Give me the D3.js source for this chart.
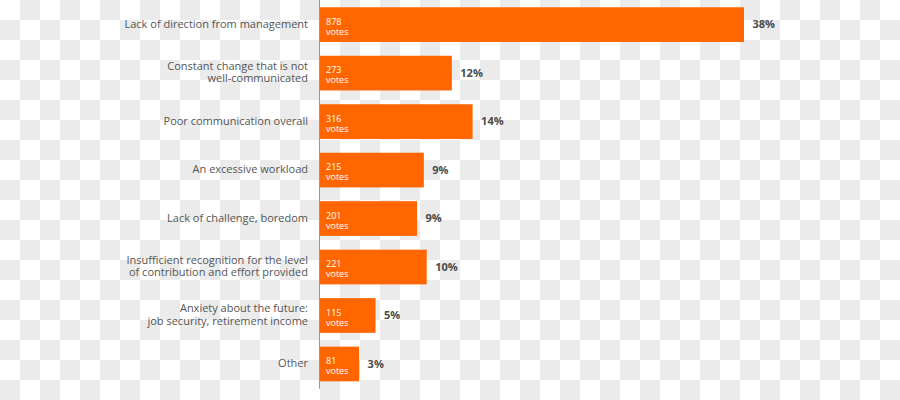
<!DOCTYPE html>
<html>
<head>
<meta charset="utf-8">
<script src="https://cdn.jsdelivr.net/npm/d3@7"></script>
<style>
  body { margin: 0; background: #fff; }
  svg { display: block; font-family: "Open Sans", sans-serif; }
</style>
</head>
<body>
<div id="chart"></div>
<script>
const categories = [
  ["Lack of direction from management"],
  ["Constant change that is not", "well-communicated"],
  ["Poor communication overall"],
  ["An excessive workload"],
  ["Lack of challenge, boredom"],
  ["Insufficient recognition for the level", "of contribution and effort provided"],
  ["Anxiety about the future:", "job security, retirement income"],
  ["Other"]
]
const votes = [878, 273, 316, 215, 201, 221, 115, 81]
const percents = [38, 12, 14, 9, 9, 10, 5, 3]

const width = 900, height = 400
const svg = d3.select('#chart').append('svg').attr('width', width).attr('height', height)

// checkerboard backdrop
const pat = svg.append('defs').append('pattern')
  .attr('id', 'checker').attr('width', 40).attr('height', 40).attr('patternUnits', 'userSpaceOnUse')
pat.append('rect').attr('width', 40).attr('height', 40).attr('fill', '#ffffff')
pat.append('rect').attr('x', 20).attr('y', 0).attr('width', 20).attr('height', 20).attr('fill', '#ebebeb')
pat.append('rect').attr('x', 0).attr('y', 20).attr('width', 20).attr('height', 20).attr('fill', '#ebebeb')
svg.append('rect').attr('width', width).attr('height', height).attr('fill', 'url(#checker)')

const x0 = 320
const scaleX = d3.scaleLinear().domain([0, 878]).range([0, 424])
const scaleY = d3.scaleBand().domain(d3.range(votes.length)).range([0, 388.6]).paddingInner(0.284).paddingOuter(0.15)

const rows = svg.selectAll('.row').data(votes).enter().append('g').attr('class', 'row')
  .attr('transform', (d, i) => 'translate(0,' + scaleY(i) + ')')

rows.append('rect')
  .attr('x', x0).attr('y', 0)
  .attr('width', (d) => scaleX(d))
  .attr('height', scaleY.bandwidth())
  .attr('fill', '#ff6600')

const mid = scaleY.bandwidth() / 2

// vote counts inside the bars
rows.append('text').attr('fill', '#fff').style('font-size', '9px')
  .attr('x', x0 + 6).attr('y', mid + 0.3).text((d) => d)
rows.append('text').attr('fill', '#fff').style('font-size', '9px')
  .attr('x', x0 + 6).attr('y', mid + 10.2).text('votes')

// percentage labels
rows.append('text')
  .attr('x', (d) => x0 + scaleX(d) + 8.5)
  .attr('y', mid + 3.8)
  .attr('fill', '#4a4a4a')
  .style('font-size', '11px').style('font-weight', 'bold')
  .text((d, i) => percents[i] + '%')

// category labels
const lh = 12.7
rows.append('text')
  .attr('text-anchor', 'end')
  .attr('fill', '#555')
  .style('font-size', '11px')
  .each(function (d, i) {
    const lines = categories[i]
    d3.select(this).selectAll('tspan').data(lines).enter().append('tspan')
      .attr('x', 308)
      .attr('y', (t, j) => mid + 3 + (j - (lines.length - 1) / 2) * lh)
      .text((t) => t)
  })

// axis line
svg.append('line').attr('x1', 319.5).attr('x2', 319.5).attr('y1', 0).attr('y2', 388.6)
  .attr('stroke', '#999').attr('stroke-width', 1)
</script>
</body>
</html>
